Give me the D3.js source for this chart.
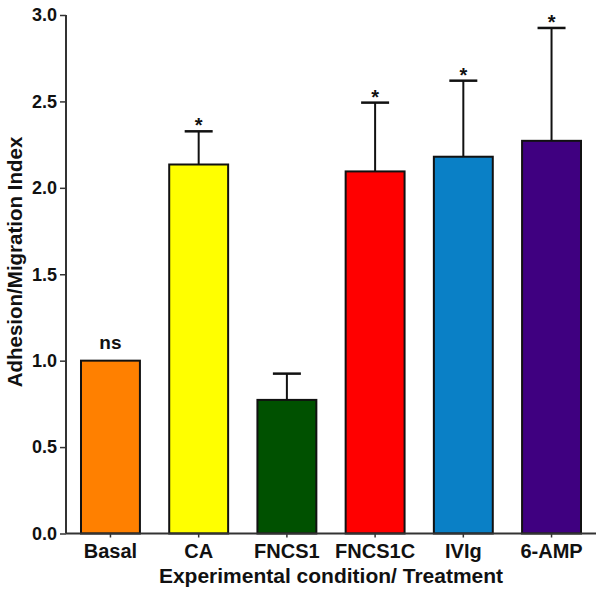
<!DOCTYPE html>
<html><head><meta charset="utf-8">
<script src="https://cdn.jsdelivr.net/npm/d3@7"></script>
<style>body{margin:0;background:#fff}svg{display:block}text{font-family:"Liberation Sans",Arial,sans-serif;font-weight:bold;fill:#111}</style>
</head><body>
<svg id="c" width="600" height="599"></svg>
<script>
const categories = ["Basal","CA","FNCS1","FNCS1C","IVIg","6-AMP"];
const means = [1.0, 2.135, 0.773, 2.095, 2.18, 2.272];
const errTop = [null, 2.327, 0.925, 2.493, 2.62, 2.925];
const sig = ["ns","*","","*","*","*"];
const colors = ["#FF8000","#FFFF00","#005100","#FF0000","#0A80C6","#3F0080"];
const yTicks = [0,0.5,1.0,1.5,2.0,2.5,3.0];

const svg = d3.select("#c");
const x = d3.scaleBand().domain(categories).range([66,596]).paddingInner(0.332).paddingOuter(0.17);
const y = d3.scaleLinear().domain([0,3]).range([533.5,15]);

// bars
svg.selectAll("rect.bar").data(categories).join("rect")
  .attr("x", d=>x(d)).attr("width", x.bandwidth())
  .attr("y", (d,i)=>y(means[i])).attr("height", (d,i)=>y(0)-y(means[i]))
  .attr("fill",(d,i)=>colors[i]).attr("stroke","#111").attr("stroke-width",2);

// error bars
categories.forEach((c,i)=>{
  if(errTop[i]==null) return;
  const cx = x(c)+x.bandwidth()/2;
  svg.append("line").attr("x1",cx).attr("x2",cx).attr("y1",y(means[i])).attr("y2",y(errTop[i])).attr("stroke","#111").attr("stroke-width",2);
  svg.append("line").attr("x1",cx-14).attr("x2",cx+14).attr("y1",y(errTop[i])).attr("y2",y(errTop[i])).attr("stroke","#111").attr("stroke-width",2.5);
});

// significance labels
categories.forEach((c,i)=>{
  if(!sig[i]) return;
  const cx = x(c)+x.bandwidth()/2;
  const top = errTop[i]==null ? y(means[i]) : y(errTop[i]);
  if(sig[i]==="*"){
    svg.append("text").attr("x",cx).attr("y",top+1).attr("text-anchor","middle").attr("font-size",20).text("*");
  } else {
    svg.append("text").attr("x",cx).attr("y",top-12).attr("text-anchor","middle").attr("font-size",19).text(sig[i]);
  }
});

// axes
const yAxis = svg.append("g").attr("transform","translate(66,0)")
  .call(d3.axisLeft(y).tickValues(yTicks).tickFormat(d3.format(".1f")).tickSize(6).tickPadding(3));
const xAxis = svg.append("g").attr("transform","translate(0,533.5)")
  .call(d3.axisBottom(x).tickSize(4).tickPadding(8).tickSizeOuter(0));
[yAxis,xAxis].forEach(g=>{
  g.select(".domain").attr("stroke","#333").attr("stroke-width",2);
  g.selectAll(".tick line").attr("stroke","#333").attr("stroke-width",1.5);
  g.selectAll("text").attr("fill","#111").attr("font-family","Liberation Sans, Arial, sans-serif").attr("font-weight","bold");
});
yAxis.selectAll("text").attr("font-size",18);
xAxis.selectAll("text").attr("font-size",20).attr("dy",null).attr("y",24.5);
yAxis.select(".domain").attr("d","M0,15V533.5");
xAxis.select(".domain").attr("d","M66,0H596");

// titles
svg.append("text").attr("x",331).attr("y",583).attr("text-anchor","middle").attr("font-size",21).text("Experimental condition/ Treatment");
svg.append("text").attr("transform","translate(22,262) rotate(-90)").attr("text-anchor","middle").attr("font-size",20.5).text("Adhesion/Migration Index");
</script>
</body></html>
